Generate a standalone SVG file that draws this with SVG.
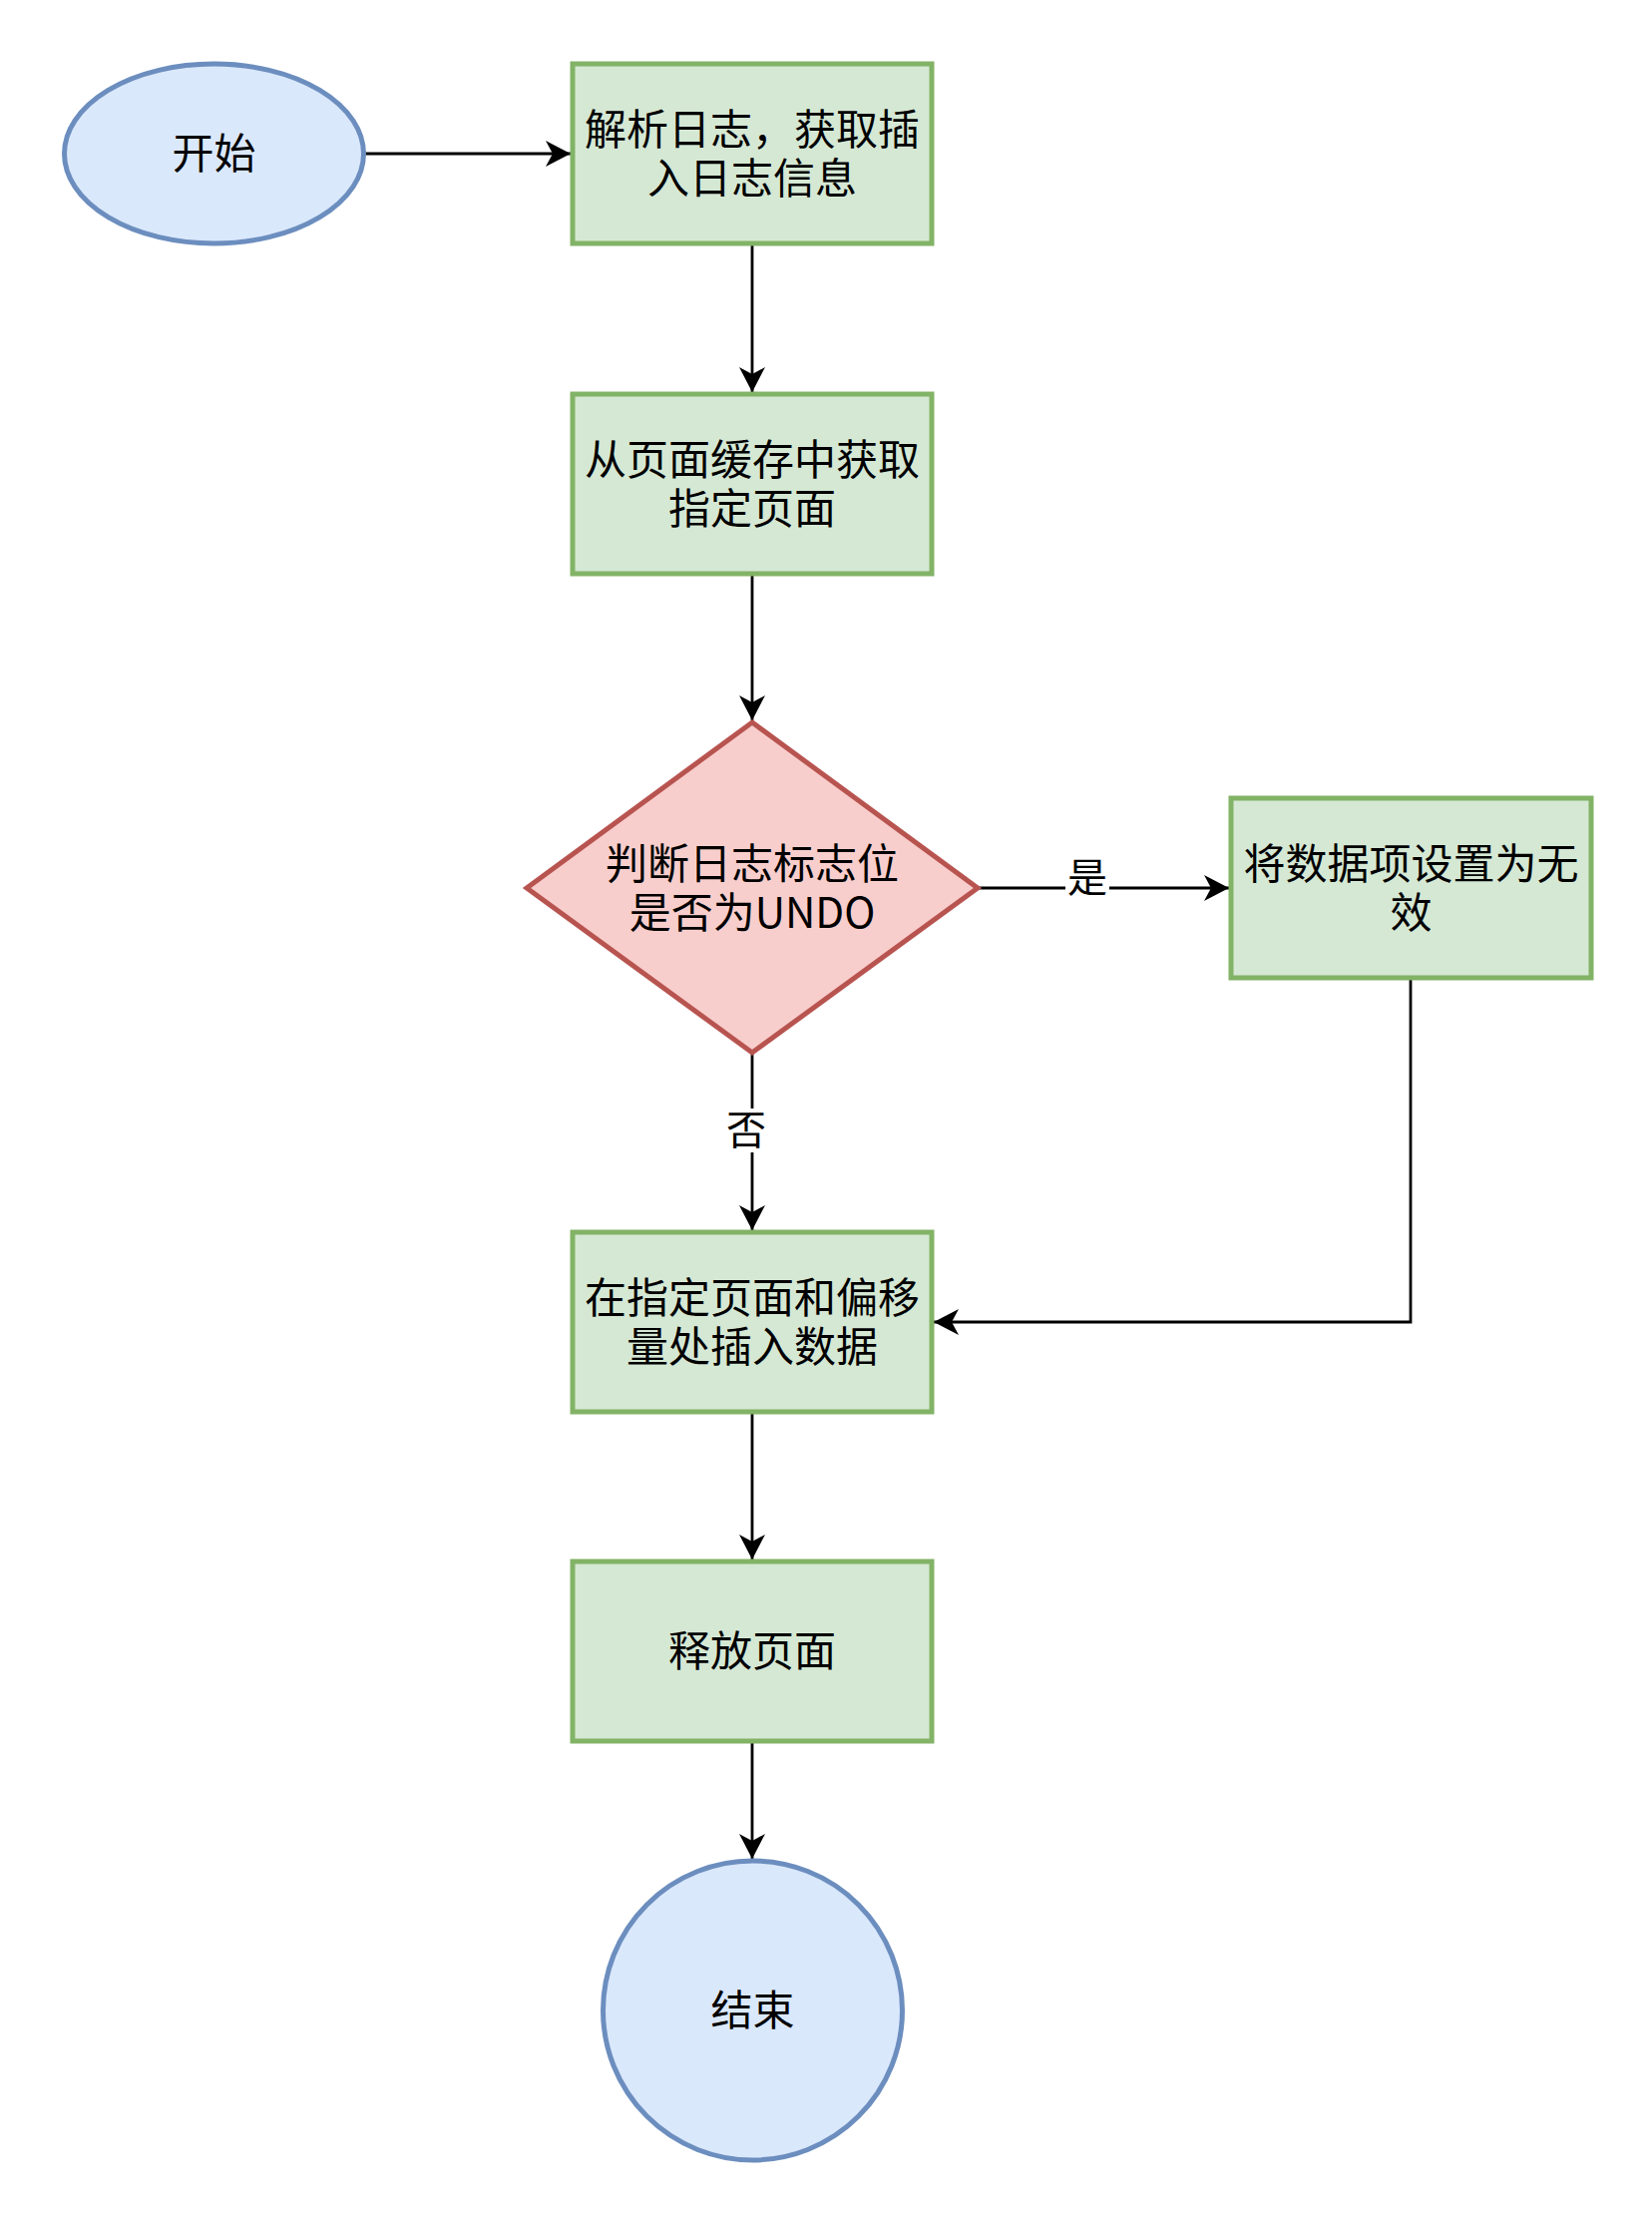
<svg xmlns="http://www.w3.org/2000/svg" width="1656" height="2226" viewBox="0 0 1656 2226">
<style>
.t{font-family:"Noto Sans CJK SC","Noto Sans",sans-serif;font-size:42px;fill:#000;text-anchor:middle}
.lbl{font-family:"Noto Sans CJK SC","Noto Sans",sans-serif;font-size:40px;fill:#000;text-anchor:middle}
.blue{fill:#dae8fc;stroke:#6c8ebf;stroke-width:5}
.green{fill:#d5e8d4;stroke:#82b366;stroke-width:5}
.red{fill:#f8cecc;stroke:#b85450;stroke-width:5}
.e{fill:none;stroke:#000;stroke-width:2.8}
</style>
<defs>
<marker id="arr" markerUnits="userSpaceOnUse" viewBox="0 0 26 26" refX="25" refY="13" markerWidth="26" markerHeight="26" orient="auto">
<path d="M25,13 L0,0 L7,13 L0,26 Z" fill="#000"/>
</marker>
</defs>
<rect width="1656" height="2226" fill="#fff"/>
<g id="edges">
<path class="e" d="M365,154 L572,154" marker-end="url(#arr)"/>
<path class="e" d="M754,244 L754,393" marker-end="url(#arr)"/>
<path class="e" d="M754,575 L754,722" marker-end="url(#arr)"/>
<path class="e" d="M980,890 L1232,890" marker-end="url(#arr)"/>
<path class="e" d="M754,1055 L754,1233" marker-end="url(#arr)"/>
<path class="e" d="M1414,980 L1414,1325 L936,1325" marker-end="url(#arr)"/>
<path class="e" d="M754,1415 L754,1563" marker-end="url(#arr)"/>
<path class="e" d="M754,1745 L754,1863" marker-end="url(#arr)"/>
<rect x="1068" y="858" width="44" height="44" fill="#fff"/>
<text class="lbl" x="1090" y="894">是</text>
<rect x="726" y="1111" width="44" height="44" fill="#fff"/>
<text class="lbl" x="748" y="1147">否</text>
</g>
<g id="start">
<ellipse class="blue" cx="214.5" cy="154" rx="150" ry="90"/>
<text class="t" x="214.5" y="169">开始</text>
</g>
<g id="parse">
<rect class="green" x="574" y="64" width="360" height="180"/>
<text class="t" x="754" y="145">解析日志，获取插</text>
<text class="t" x="754" y="194">入日志信息</text>
</g>
<g id="fetch">
<rect class="green" x="574" y="395" width="360" height="180"/>
<text class="t" x="754" y="476">从页面缓存中获取</text>
<text class="t" x="754" y="525">指定页面</text>
</g>
<g id="decide">
<polygon class="red" points="754,724 980,890 754,1055 528,890"/>
<text class="t" x="754" y="881">判断日志标志位</text>
<text class="t" x="754" y="930">是否为UNDO</text>
</g>
<g id="invalid">
<rect class="green" x="1234" y="800" width="361" height="180"/>
<text class="t" x="1414.5" y="881">将数据项设置为无</text>
<text class="t" x="1414.5" y="930">效</text>
</g>
<g id="insert">
<rect class="green" x="574" y="1235" width="360" height="180"/>
<text class="t" x="754" y="1316">在指定页面和偏移</text>
<text class="t" x="754" y="1365">量处插入数据</text>
</g>
<g id="release">
<rect class="green" x="574" y="1565" width="360" height="180"/>
<text class="t" x="754" y="1670">释放页面</text>
</g>
<g id="end">
<circle class="blue" cx="754.5" cy="2015" r="150"/>
<text class="t" x="754.5" y="2030">结束</text>
</g>
</svg>
